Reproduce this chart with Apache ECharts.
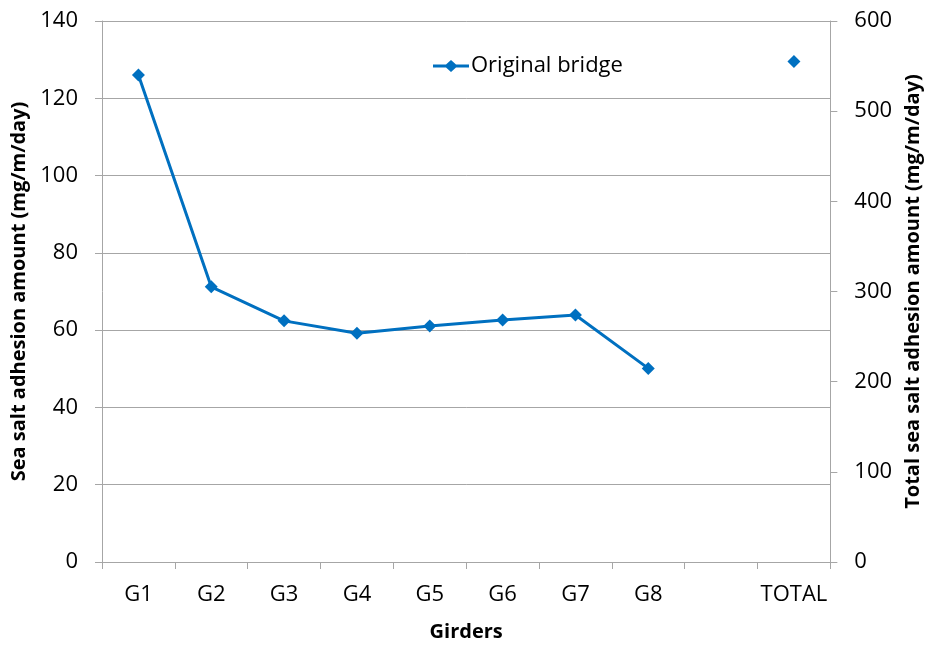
<!DOCTYPE html>
<html>
<head>
<meta charset="utf-8">
<script src="https://cdn.jsdelivr.net/npm/echarts@6/dist/echarts.min.js"></script>
<style>html,body{margin:0;padding:0;background:#fff}#c{width:931px;height:647px}</style>
</head>
<body>
<div id="c"></div>
<script>
var categories = ['G1','G2','G3','G4','G5','G6','G7','G8','','TOTAL'];
var originalBridge = [126.0, 71.2, 62.4, 59.2, 61.1, 62.6, 63.9, 50.1, null, null];
var totalValues = [null, null, null, null, null, null, null, null, null, 555];
var leftTicks = {min: 0, max: 140, interval: 20};
var rightTicks = {min: 0, max: 600, interval: 100};

var FONT = '"Open Sans", "Noto Sans", sans-serif';
var BLUE = '#0070C0';
var GRID = '#A6A6A6';
var chart = echarts.init(document.getElementById('c'));
chart.setOption({
  animation: false,
  backgroundColor: '#fff',
  textStyle: {fontFamily: FONT},
  grid: {left: 102, right: 99, top: 21, bottom: 85, containLabel: false},
  legend: {
    data: [{name: 'Original bridge', icon: 'path://M0,4.5 L13,4.5 L18,0 L23,4.5 L36,4.5 L36,7.5 L23,7.5 L18,12 L13,7.5 L0,7.5 Z'}],
    left: 428, top: 50,
    itemWidth: 36, itemHeight: 12, itemGap: 5,
    textStyle: {fontFamily: FONT, fontSize: 22, color: '#000', padding: [0,0,0,-3]}
  },
  xAxis: {
    type: 'category', data: categories, boundaryGap: true,
    name: 'Girders', nameLocation: 'middle', nameGap: 60,
    nameTextStyle: {fontFamily: FONT, fontSize: 20, fontWeight: 'bold', color: '#000'},
    axisLine: {show: true, lineStyle: {color: GRID, width: 1}},
    axisTick: {show: true, alignWithLabel: false, length: 7, lineStyle: {color: GRID}, interval: 0},
    axisLabel: {interval: 0, margin: 22, fontFamily: FONT, fontSize: 22, color: '#000'},
    splitLine: {show: false}
  },
  yAxis: [{
    type: 'value', min: leftTicks.min, max: leftTicks.max, interval: leftTicks.interval,
    name: 'Sea salt adhesion amount (mg/m/day)', nameLocation: 'middle', nameGap: 70, nameRotate: 90,
    nameTextStyle: {fontFamily: FONT, fontSize: 20, fontWeight: 'bold', color: '#000'},
    axisLine: {show: true, lineStyle: {color: GRID, width: 1}},
    axisTick: {show: true, length: 7, lineStyle: {color: GRID}},
    axisLabel: {margin: 24, fontFamily: FONT, fontSize: 22, color: '#000'},
    splitLine: {show: true, lineStyle: {color: GRID, width: 1}}
  }, {
    type: 'value', position: 'right', min: rightTicks.min, max: rightTicks.max, interval: rightTicks.interval,
    name: 'Total sea salt adhesion amount (mg/m/day)', nameLocation: 'middle', nameGap: 71, nameRotate: 90,
    nameTextStyle: {fontFamily: FONT, fontSize: 20, fontWeight: 'bold', color: '#000'},
    axisLine: {show: true, lineStyle: {color: GRID, width: 1}},
    axisTick: {show: true, length: 7, lineStyle: {color: GRID}},
    axisLabel: {margin: 24, fontFamily: FONT, fontSize: 22, color: '#000'},
    splitLine: {show: false}
  }],
  series: [{
    name: 'Original bridge', type: 'line', yAxisIndex: 0, data: originalBridge,
    symbol: 'diamond', symbolSize: 13, showAllSymbol: true,
    lineStyle: {color: BLUE, width: 3}, itemStyle: {color: BLUE},
    connectNulls: false
  }, {
    name: 'Total', type: 'line', yAxisIndex: 1, data: totalValues,
    symbol: 'diamond', symbolSize: 13, showAllSymbol: true,
    lineStyle: {color: BLUE, width: 3}, itemStyle: {color: BLUE}
  }]
});
</script>
</body>
</html>
